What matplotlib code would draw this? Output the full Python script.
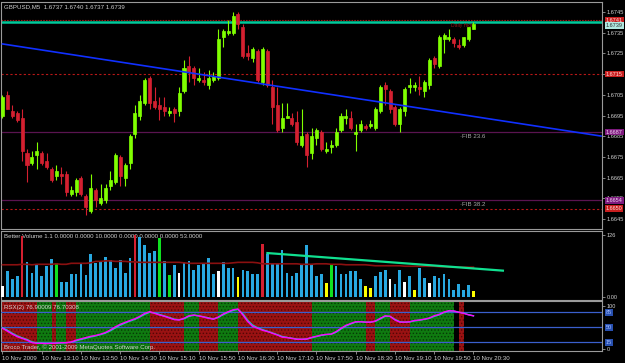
import numpy as np
import matplotlib
matplotlib.use('Agg')
import matplotlib.pyplot as plt
from matplotlib.transforms import blended_transform_factory

plt.rcParams['font.family'] = ['Liberation Sans', 'DejaVu Sans']
plt.rcParams['hatch.linewidth'] = 0.6

# ---- data (GBPUSD M5, 10 Nov 2009 12:30 - 20:30) ----
opens = [1.6695, 1.6705, 1.6697, 1.6696, 1.6694, 1.6677, 1.6672, 1.6676, 1.6677, 1.6673,
         1.6669, 1.6666, 1.6667, 1.6667, 1.6657, 1.6658, 1.6665, 1.6656, 1.6649, 1.6659,
         1.6653, 1.6654, 1.6661, 1.6663, 1.6675, 1.6665, 1.6672, 1.6686, 1.6695, 1.6701,
         1.6713, 1.6702, 1.6700, 1.6699, 1.6696, 1.6698, 1.6697, 1.6707, 1.6719, 1.6718,
         1.6712, 1.6712, 1.6710, 1.6712, 1.6713, 1.6733, 1.6735, 1.6735, 1.6744, 1.6738,
         1.6725, 1.6723, 1.6726, 1.6711, 1.6726, 1.6709, 1.6700, 1.6689, 1.6694, 1.6694,
         1.6692, 1.6681, 1.6686, 1.6677, 1.6684, 1.6687, 1.6678, 1.6680, 1.6681, 1.6688,
         1.6694, 1.6694, 1.6686, 1.6688, 1.6690, 1.6690, 1.6689, 1.6697, 1.6710, 1.6707,
         1.6699, 1.6691, 1.6697, 1.6709, 1.6709, 1.6709, 1.6707, 1.6710, 1.6723, 1.6719,
         1.6732, 1.6732, 1.6732, 1.6729, 1.6729, 1.6732, 1.6737]
highs = [1.6705, 1.6707, 1.6700, 1.6697, 1.6698, 1.6679, 1.6678, 1.6682, 1.6678, 1.6677,
         1.6670, 1.6671, 1.6670, 1.6668, 1.6661, 1.6665, 1.6666, 1.6657, 1.6667, 1.6660,
         1.6662, 1.6662, 1.6668, 1.6677, 1.6676, 1.6672, 1.6686, 1.6700, 1.6705, 1.6713,
         1.6714, 1.6709, 1.6704, 1.6704, 1.6699, 1.6699, 1.6709, 1.6722, 1.6724, 1.6719,
         1.6718, 1.6716, 1.6717, 1.6716, 1.6737, 1.6737, 1.6741, 1.6745, 1.6745, 1.6739,
         1.6729, 1.6728, 1.6727, 1.6728, 1.6727, 1.6712, 1.6709, 1.6701, 1.6701, 1.6696,
         1.6697, 1.6698, 1.6687, 1.6689, 1.6689, 1.6688, 1.6682, 1.6683, 1.6689, 1.6696,
         1.6698, 1.6697, 1.6691, 1.6693, 1.6691, 1.6693, 1.6699, 1.6710, 1.6711, 1.6708,
         1.6700, 1.6699, 1.6709, 1.6713, 1.6711, 1.6714, 1.6712, 1.6723, 1.6724, 1.6734,
         1.6735, 1.6737, 1.6733, 1.6732, 1.6733, 1.6738, 1.6740]
lows = [1.6694, 1.6698, 1.6694, 1.6692, 1.6673, 1.6663, 1.6671, 1.6669, 1.6671, 1.6669,
        1.6663, 1.6664, 1.6662, 1.6656, 1.6656, 1.6656, 1.6656, 1.6647, 1.6648, 1.6651,
        1.6652, 1.6653, 1.6659, 1.6662, 1.6661, 1.6661, 1.6669, 1.6684, 1.6693, 1.6700,
        1.6698, 1.6698, 1.6693, 1.6695, 1.6695, 1.6692, 1.6695, 1.6706, 1.6711, 1.6710,
        1.6711, 1.6710, 1.6708, 1.6711, 1.6712, 1.6728, 1.6734, 1.6734, 1.6737, 1.6723,
        1.6722, 1.6721, 1.6711, 1.6710, 1.6709, 1.6691, 1.6687, 1.6687, 1.6694, 1.6690,
        1.6681, 1.6680, 1.6670, 1.6674, 1.6681, 1.6678, 1.6677, 1.6677, 1.6680, 1.6687,
        1.6691, 1.6688, 1.6678, 1.6687, 1.6688, 1.6689, 1.6688, 1.6696, 1.6700, 1.6696,
        1.6690, 1.6687, 1.6695, 1.6706, 1.6707, 1.6705, 1.6704, 1.6708, 1.6718, 1.6718,
        1.6725, 1.6731, 1.6728, 1.6727, 1.6728, 1.6731, 1.6737]
closes = [1.6704, 1.6698, 1.6695, 1.6693, 1.6678, 1.6671, 1.6675, 1.6678, 1.6672, 1.6670,
          1.6664, 1.6668, 1.6666, 1.6658, 1.6659, 1.6664, 1.6657, 1.6651, 1.6660, 1.6654,
          1.6655, 1.6660, 1.6664, 1.6676, 1.6666, 1.6671, 1.6685, 1.6696, 1.6702, 1.6712,
          1.6701, 1.6699, 1.6698, 1.6697, 1.6697, 1.6696, 1.6706, 1.6718, 1.6716, 1.6713,
          1.6713, 1.6711, 1.6713, 1.6714, 1.6732, 1.6736, 1.6736, 1.6743, 1.6739, 1.6724,
          1.6724, 1.6727, 1.6712, 1.6727, 1.6710, 1.6699, 1.6688, 1.6694, 1.6695, 1.6691,
          1.6682, 1.6685, 1.6676, 1.6685, 1.6688, 1.6679, 1.6679, 1.6681, 1.6687, 1.6695,
          1.6695, 1.6689, 1.6687, 1.6691, 1.6689, 1.6691, 1.6698, 1.6709, 1.6708, 1.6698,
          1.6691, 1.6698, 1.6708, 1.6710, 1.6710, 1.6708, 1.6711, 1.6722, 1.6720, 1.6733,
          1.6734, 1.6733, 1.6730, 1.6728, 1.6733, 1.6738, 1.6739]

volumes = [21, 53, 35, 43, 123, 70, 49, 66, 43, 62,
           77, 68, 30, 30, 46, 47, 68, 45, 87, 68,
           71, 81, 75, 58, 75, 49, 79, 125, 121, 106,
           90, 93, 119, 73, 45, 64, 48, 71, 73, 54,
           64, 66, 78, 47, 53, 70, 59, 58, 39, 55,
           53, 47, 47, 107, 87, 67, 68, 96, 49, 43,
           49, 64, 106, 67, 43, 46, 28, 64, 63, 46,
           47, 53, 52, 36, 22, 17, 43, 51, 55, 35,
           26, 54, 30, 43, 14, 58, 37, 28, 43, 37,
           47, 36, 14, 26, 14, 24, 11]
# b=normal, r=climax, g=churn, w=low vol, y=very low
vol_kind = list("wbbbrbbbbbbgbbbbbbbbbbbbbbbrbbbbgbgbwbbbbbbbwbbby"
                "bbbbrbbbbbbbbbbbbygbbbbbbyybbbwbbwbybbwbbbbbbbby")
vol_avg = [65, 65, 65, 65, 66, 66, 65, 66, 66, 66,
           66, 67, 66, 66, 68, 68, 68, 68, 69, 72,
           72, 73, 73, 72, 72, 72, 71, 71, 70, 70,
           70, 70, 70, 70, 70, 70, 70, 69, 68, 68,
           68, 68, 68, 68, 68, 68, 68, 69, 70, 70,
           70, 70, 69, 67, 67, 67, 67, 67, 67, 67,
           67, 66, 66, 66, 67, 67, 67, 66, 66, 66,
           65, 65, 65, 65, 65, 64, 63, 63, 63, 63,
           63, 63, 62, 62, 62, 62, 62, 62, 62, 61,
           61, 60, 60, 60, 60, 60, 60]
vol_trend_bars = [54, 102]
vol_trend_vals = [89, 53]

rsx = [47.6, 41, 34, 28, 24, 20, 14, 12.6, 12.6, 12,
       12.6, 13, 14, 14, 15.7, 20, 23, 26, 29, 31,
       34, 38, 44, 51, 57, 61.6, 66, 70, 75.6, 82.6,
       86.5, 82.6, 78.7, 75.6, 71.7, 67.8, 67, 71, 77, 78.7,
       76.4, 74, 71, 69, 74, 81, 86.5, 91, 92.7, 78.7,
       63, 52, 47.6, 43, 40, 36, 32, 27, 26, 24,
       22, 22, 22.7, 26.6, 29, 32, 33.6, 34, 40, 47.6,
       54.6, 59, 63, 63, 62, 62, 64.7, 71, 77, 75.6,
       67, 62, 62, 63, 66, 67, 69, 71.7, 77, 80,
       85.7, 88.8, 88, 85, 82.6, 79, 76.9]
rsx_signal = [49, 43, 36, 30, 25.5, 21.5, 16, 13.5, 13, 12.5,
              12.5, 13, 13.5, 14, 15, 18.5, 21.5, 24.5, 27.5, 30,
              33, 36.5, 42, 48.5, 55, 60, 64.5, 68.5, 74, 80.5,
              85, 83.5, 80, 76.5, 73, 69, 67.5, 70, 75.5, 78,
              77, 74.5, 72, 69.5, 73, 79.5, 85, 89.5, 92, 81.5,
              66, 55, 49, 44.5, 41, 37, 33, 28.5, 26.5, 24.5,
              22.5, 22, 22.5, 25.5, 28.5, 31, 33, 34, 38.5, 46,
              53, 58, 62, 63, 62, 62, 64, 69.5, 75.5, 75.5,
              68.5, 63, 62, 62.5, 65, 66.5, 68.5, 71, 75.5, 79,
              84.5, 88, 88, 85.5, 83, 79.5, 76.7]
# r = falling, g = rising, n = no colour
rsx_state = list("rrrrrrrgggrggrrgggggggggggggggrrrrrrrgggrrrrgggg"
                 "rrrrrrrrrrrrrrrgggggggggggrrgggrrrrgggggggggnrnnn")
rsx_levels = [85, 50, 15]

time_bars = list(range(0, 97, 8))
time_labels = ['10 Nov 2009', '10 Nov 13:10', '10 Nov 13:50', '10 Nov 14:30',
               '10 Nov 15:10', '10 Nov 15:50', '10 Nov 16:30', '10 Nov 17:10',
               '10 Nov 17:50', '10 Nov 18:30', '10 Nov 19:10', '10 Nov 19:50',
               '10 Nov 20:30']

trend_bars = [0, 122]
trend_prices = [1.67296, 1.66851]
fib_levels = [1.6687, 1.6654]
fib_names = ['FIB 23.6', 'FIB 38.2']

# ---- layout ----
W, H = 625, 363
BG = 'black'
TXT = '#d0d0d0'
FRAME = '#9a9a9a'
GREEN = '#80ff00'
RED = '#d42030'
FS = 4.4
FS_SCALE = 4.1

fig = plt.figure(figsize=(W / 100, H / 100), dpi=100, facecolor=BG)


def pbox(x0, y0, x1, y1):
    return [x0 / W, 1 - y1 / H, (x1 - x0) / W, (y1 - y0) / H]


ax = fig.add_axes(pbox(1.5, 1.5, 602, 229))
axv = fig.add_axes(pbox(1.5, 230.5, 602, 299.5))
axr = fig.add_axes(pbox(1.5, 301, 602, 351))

xlim = (-0.2, 122.2)
for a in (ax, axv, axr):
    a.set_facecolor(BG)
    a.set_xlim(*xlim)
    for s in a.spines.values():
        s.set_color(FRAME)
        s.set_linewidth(0.8)
    a.yaxis.tick_right()
    a.tick_params(axis='y', length=2.5, width=0.6, color=FRAME, pad=1.0,
                  labelsize=FS_SCALE, labelcolor=TXT)
    a.tick_params(axis='x', length=0, labelbottom=False)

idx = np.arange(len(opens))
o = np.array(opens)
c = np.array(closes)

# ---- price window ----
ax.set_ylim(1.66402, 1.67501)
ticks = np.round(np.arange(1.6645, 1.67451, 0.001), 4)
ax.set_yticks(ticks)
ax.set_yticklabels(['%.4f' % t for t in ticks])

cols = [GREEN if cc >= oo else RED for oo, cc in zip(o, c)]
ax.vlines(idx, lows, highs, colors=cols, lw=0.8, zorder=3)
ax.bar(idx, np.abs(c - o), bottom=np.minimum(o, c), width=0.62,
       color=cols, edgecolor=cols, linewidth=0.5, zorder=4)

ax.axhline(1.6741, color='#a01818', lw=0.8, ls=(0, (1.5, 1)), zorder=2)
ax.axhline(1.6740, color='#00c89a', lw=1.8, zorder=2)
ax.axhline(1.6715, color='#b81818', lw=0.8, ls=(0, (2, 2)), zorder=2)
ax.axhline(1.6650, color='#b81818', lw=0.8, ls=(0, (2, 2)), zorder=2)
for lv, nm in zip(fib_levels, fib_names):
    ax.axhline(lv, color='#5a1450', lw=0.9, zorder=2)
    ax.text(93.3, lv - 0.00008, '\u00b7' + nm, color='#a8a8a8', fontsize=FS,
            va='top', ha='left')
ax.plot(trend_bars, trend_prices, color='#1030ff', lw=1.2, zorder=5)
ax.text(91.5, 1.67385, 'Daily High', color='#901818', fontsize=3.6, va='center')

ax.text(0.004, 0.987, 'GBPUSD,M5  1.6737 1.6740 1.6737 1.6739', transform=ax.transAxes,
        color=TXT, fontsize=FS, va='top', ha='left')

tr = blended_transform_factory(ax.transAxes, ax.transData)


def tag(a, y, s, fc, tc, trans):
    a.text(1.0065, y, s, transform=trans, fontsize=4.0, color=tc, va='center', ha='left',
           bbox=dict(boxstyle='square,pad=0.15', fc=fc, ec='none'), clip_on=False, zorder=20)


tag(ax, 1.6741, '1.6741', '#c81e1e', '#ffd8d8', tr)
tag(ax, 1.67385, '1.6739', '#b0e8e0', '#303030', tr)
tag(ax, 1.6715, '1.6715', '#c81e1e', '#ffd8d8', tr)
tag(ax, 1.6687, '1.6687', '#7e1a7e', '#f0d0f0', tr)
tag(ax, 1.6654, '1.6654', '#7e1a7e', '#f0d0f0', tr)
tag(ax, 1.6650, '1.6650', '#c81e1e', '#ffd8d8', tr)

# ---- Better Volume window ----
vcol = {'b': '#28a8e0', 'r': RED, 'g': '#10e020', 'w': '#ffffff', 'y': '#ffff00'}
axv.set_ylim(-6.1, 135.2)
axv.set_yticks([0, 126])
axv.set_yticklabels(['0.00', '126'])
axv.bar(idx, volumes, width=0.56, color=[vcol[k] for k in vol_kind], zorder=3)
axv.plot(idx, vol_avg, color='#8a1010', lw=1.2, zorder=4)
axv.plot(vol_trend_bars, vol_trend_vals, color='#10e090', lw=1.6, zorder=5)
axv.text(0.004, 0.91, 'Better Volume 1.1 0.0000 0.0000 10.0000 0.0000 0.0000 0.0000 53.0000',
         transform=axv.transAxes, color=TXT, fontsize=FS, va='center', ha='left', zorder=2)

# ---- RSX window ----
axr.set_ylim(-5.3, 111.4)
axr.set_yticks([0, 100])
axr.set_yticklabels(['0', '100'])
band_fc = {'r': '#9a1212', 'g': '#0f7a10'}
band_hc = {'r': '#520606', 'g': '#053a05'}
for i, st in enumerate(rsx_state):
    if st == 'n':
        continue
    axr.bar(i, 116.7, bottom=-5.3, width=1.0, align='edge', color=band_fc[st],
            edgecolor=band_hc[st], hatch='.....', linewidth=0, zorder=1)
trr = blended_transform_factory(axr.transAxes, axr.transData)
for lv in rsx_levels:
    axr.axhline(lv, color='#3a5fcd', lw=0.9, zorder=3)
    tag(axr, lv, str(lv), '#2850b0', '#a8c0ff', trr)
axr.plot(idx, rsx_signal, color='#20c8c8', lw=1.0, zorder=4)
axr.plot(idx, rsx, color='#ff00ff', lw=1.0, zorder=5)
axr.text(0.004, 0.86, 'RSX(2) 76.90009 76.70308', transform=axr.transAxes,
         color=TXT, fontsize=FS, va='center', ha='left', zorder=6)
axr.text(0.004, 0.08, 'Broco Trader, \u00a9 2001-2009 MetaQuotes Software Corp.',
         transform=axr.transAxes, color=TXT, fontsize=FS, va='center', ha='left', zorder=6)

axr.set_xticks(time_bars)
axr.set_xticklabels(time_labels, ha='left')
axr.tick_params(axis='x', length=2.5, width=0.6, color=FRAME, pad=1.2,
                labelbottom=True, labelsize=FS, labelcolor=TXT)

fig.savefig('out.png', dpi=100, facecolor=BG)
